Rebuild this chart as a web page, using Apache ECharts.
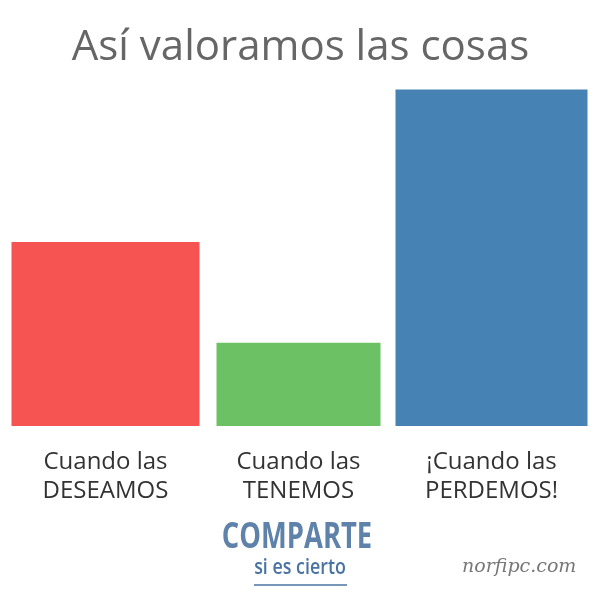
<!DOCTYPE html>
<html><head><meta charset="utf-8">
<script src="https://cdn.jsdelivr.net/npm/echarts@6/dist/echarts.min.js"></script>
<style>html,body{margin:0;padding:0;background:#fff}#c{width:601px;height:601px}</style>
</head><body><div id="c"></div>
<script>
const categories = ['Cuando las\nDESEAMOS', 'Cuando las\nTENEMOS', '¡Cuando las\nPERDEMOS!'];
const values = [53, 24, 97];
const colors = ['#f55452', '#6cc164', '#4682b4'];
const widths = [188, 164, 192];

const chart = echarts.init(document.getElementById('c'), null, {renderer: 'canvas'});
chart.setOption({
  backgroundColor: '#fff',
  animation: false,
  title: {
    text: 'Así valoramos las cosas', left: 'center', top: 22,
    textStyle: {fontFamily: 'Open Sans', fontWeight: 'normal', fontSize: 42, color: '#666'}
  },
  grid: {left: 9, right: 13, top: 86, bottom: 175},
  xAxis: {
    type: 'category', data: categories,
    axisLine: {show: false}, axisTick: {show: false},
    axisLabel: {
      margin: 22, fontFamily: 'Open Sans', fontSize: 24, lineHeight: 29, color: '#333'
    }
  },
  yAxis: {type: 'value', min: 0, max: 98, show: false, splitLine: {show: false}},
  series: [{
    type: 'custom',
    silent: true,
    data: values.map((v, i) => [i, v]),
    renderItem: function (params, api) {
      const i = api.value(0);
      const top = api.coord([i, api.value(1)]);
      const base = api.coord([i, 0]);
      const w = widths[i];
      return {
        type: 'rect',
        shape: {x: top[0] - w / 2, y: top[1], width: w, height: base[1] - top[1]},
        style: {fill: colors[i]}
      };
    }
  }],
  graphic: [
    {type: 'text', x: 297, y: 520, scaleX: 0.76, style: {text: 'COMPARTE', textAlign: 'center', font: 'bold 36px "Open Sans", sans-serif', fill: '#5e82aa'}},
    {type: 'text', x: 300, y: 558, scaleX: 0.85, style: {text: 'si es cierto', textAlign: 'center', font: '600 21px "Open Sans", sans-serif', fill: '#4a73a1'}},
    {type: 'line', shape: {x1: 254, y1: 585, x2: 347, y2: 585}, style: {stroke: '#4a73a1', lineWidth: 1.5}},
    {type: 'text', x: 462, y: 558, style: {text: 'norfipc.com', font: 'italic 19px "DejaVu Serif", serif', fill: '#777'}}
  ]
});
</script></body></html>
